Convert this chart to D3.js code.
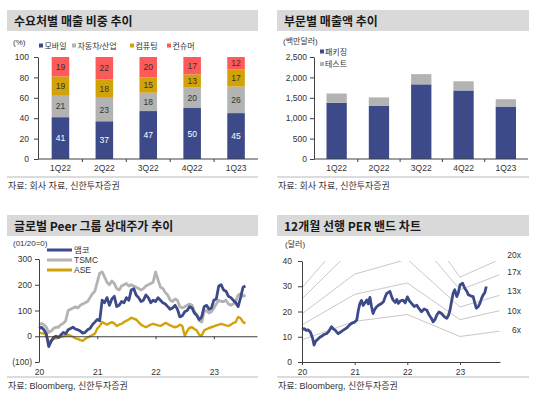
<!DOCTYPE html>
<html>
<head>
<meta charset="utf-8">
<script src="https://cdn.jsdelivr.net/npm/d3@7/dist/d3.min.js"></script>
<style>
  body { margin: 0; background: #fff; }
  svg { font-family: "Liberation Sans", "Noto Sans CJK KR", sans-serif; }
</style>
</head>
<body>
<svg id="chart" width="539" height="398"></svg>
<script>
// ---- data: 수요처별 매출 비중 (%)
const quarters = ['1Q22', '2Q22', '3Q22', '4Q22', '1Q23'];
const mobile = [41, 37, 47, 50, 45];
const autoIndustrial = [21, 23, 18, 20, 26];
const computing = [19, 18, 15, 13, 17];
const consumer = [19, 22, 20, 17, 12];
const shareTicks = [0, 20, 40, 60, 80, 100];

// ---- data: 부문별 매출액 (백만달러)
const packaging = [1380, 1300, 1830, 1680, 1285];
const testSales = [225, 210, 250, 225, 180];
const salesTicks = [0, 500, 1000, 1500, 2000, 2500];

// ---- data: 글로벌 Peer 상대주가 (01/20=0), two readings per month
const peerMonths = [
  '2020-01','2020-02','2020-03','2020-04','2020-05','2020-06','2020-07','2020-08','2020-09','2020-10','2020-11','2020-12',
  '2021-01','2021-02','2021-03','2021-04','2021-05','2021-06','2021-07','2021-08','2021-09','2021-10','2021-11','2021-12',
  '2022-01','2022-02','2022-03','2022-04','2022-05','2022-06','2022-07','2022-08','2022-09','2022-10','2022-11','2022-12',
  '2023-01','2023-02','2023-03','2023-04','2023-05','2023-06','2023-07'
];
const amkorRel = [
  30,35, 25,10, -40,-20, -5,0, -5,5, 15,10, 25,30, 35,28, 25,20, 12,15, 25,30, 45,55,
  65,60, 140,130, 150,120, 145,155, 115,120, 135,130, 150,140, 180,185, 160,150, 135,140, 160,150, 130,140,
  135,150, 140,130, 125,115, 105,110, 120,105, 75,80, 95,100, 115,110, 90,80, 65,75, 115,120, 105,110,
  140,145, 195,200, 180,175, 155,150, 140,130, 115,150, 190,195
];
const tsmcRel = [
  45,50, 45,35, 15,20, 30,35, 35,45, 50,60, 100,105, 110,115, 110,120, 125,130, 135,150, 165,175,
  210,245, 250,230, 210,200, 215,205, 185,180, 195,200, 205,195, 200,195, 190,185, 180,185, 195,200, 205,210,
  250,220, 190,185, 170,160, 140,135, 145,140, 115,110, 115,120, 125,120, 95,85, 60,55, 95,100, 90,95,
  110,125, 140,135, 135,140, 125,120, 125,135, 160,165, 155,160
];
const aseRel = [
  15,12, 10,5, -25,-15, -10,-8, -5,-2, 0,3, 5,2, -2,-8, -10,-15, -18,-10, -5,0, 5,10,
  30,40, 55,50, 45,50, 55,50, 40,45, 48,55, 60,65, 72,68, 65,55, 45,40, 35,40, 45,48,
  45,42, 40,45, 52,48, 42,38, 35,38, 45,40, 2,20, 33,35, 28,22, 5,2, 22,28, 32,35,
  38,42, 45,48, 45,42, 40,45, 52,55, 75,70, 55,50
];
const peerTicks = [-100, 0, 100, 200, 300];
const yearTicks = [2020, 2021, 2022, 2023];

// ---- data: 12개월 선행 PER 밴드 (달러)
const priceYears = [
  2020.00,2020.04,2020.08,2020.12,2020.16,2020.20,2020.23,2020.26,2020.30,2020.34,2020.38,2020.42,2020.47,2020.51,
  2020.56,2020.60,2020.63,2020.66,2020.69,2020.72,2020.75,2020.80,2020.85,2020.90,2020.94,
  2021.00,2021.04,2021.07,2021.10,2021.13,2021.16,2021.20,2021.23,2021.26,2021.29,2021.32,2021.35,2021.38,2021.42,
  2021.46,2021.51,2021.55,2021.58,2021.61,2021.64,2021.67,2021.70,2021.73,2021.77,2021.80,2021.83,2021.87,2021.92,2021.96,
  2022.00,2022.04,2022.08,2022.13,2022.18,2022.22,2022.27,2022.32,2022.37,2022.42,2022.46,2022.49,2022.53,2022.56,
  2022.60,2022.65,2022.70,2022.75,2022.78,2022.81,2022.84,2022.87,2022.90,2022.94,2022.97,
  2023.00,2023.05,2023.09,2023.13,2023.16,2023.20,2023.25,2023.28,2023.31,2023.35,2023.38,2023.41,2023.44,2023.47,2023.50
];
const price = [
  12.9,13.2,12.5,12.7,11.8,9.5,6.7,8.2,9.0,9.8,10.3,10.9,11.3,12.2,
  14.0,13.0,12.6,11.8,11.2,11.7,12.1,12.8,13.5,14.6,15.3,
  15.8,16.6,20.5,23.2,24.4,22.4,23.6,24.6,23.0,25.6,22.0,19.2,20.8,21.9,
  22.6,23.2,24.0,25.8,27.2,27.6,27.9,26.0,24.5,23.6,24.8,23.2,24.2,24.5,23.4,
  25.8,24.2,23.2,22.0,22.5,21.2,19.9,21.0,20.5,18.4,17.2,15.9,17.0,18.6,
  19.8,19.2,18.0,17.3,18.4,20.5,24.0,27.2,28.6,25.9,27.5,
  30.5,31.2,29.2,28.0,26.6,26.2,25.9,23.5,21.3,22.0,23.3,25.2,26.6,27.4,29.9
];
const bandYears = [2020, 2021, 2022, 2023, 2023.75];
const bandNames = ['6x', '10x', '13x', '17x', '20x'];
const band6x = [8.8, 16.1, 18.8, 10.1, 12.2];
const band10x = [14.7, 26.8, 31.3, 16.8, 20.3];
const band13x = [19.1, 34.8, 40.7, 21.8, 26.4];
const band17x = [25.0, 45.6, 53.2, 28.6, 34.5];
const band20x = [29.4, 53.6, 62.6, 33.6, 40.6];
const perTicks = [0, 10, 20, 30, 40];

const NAVY = '#3d4a89', GRAY = '#b3b3b3', GOLD = '#d2a208', RED = '#ff5a5a';
const AXIS = '#404040', TXT = '#333';

const svg = d3.select('#chart');

// title bar + bottom source line for one panel
function frame(x0, x1, top, title, lineY, source) {
  svg.append('rect')
    .attr('x', x0).attr('y', top).attr('width', x1 - x0).attr('height', 21)
    .attr('fill', '#d9d9d9');
  svg.append('text')
    .attr('x', x0 + 7).attr('y', top + 15.5)
    .attr('font-size', 12).attr('font-weight', 'bold').attr('fill', '#1a1a1a')
    .style('font-family', '"Noto Sans CJK KR", sans-serif')
    .text(title);
  svg.append('line')
    .attr('x1', x0).attr('x2', x1).attr('y1', lineY).attr('y2', lineY)
    .attr('stroke', '#a6a6a6').attr('stroke-width', 0.8);
  svg.append('text')
    .attr('x', x0 + 1).attr('y', lineY + 11.5)
    .attr('font-size', 9).attr('fill', TXT)
    .text(source);
}

function styleAxis(g) {
  g.select('.domain').attr('stroke', AXIS);
  g.selectAll('.tick line').attr('stroke', AXIS);
  g.selectAll('.tick text').attr('fill', TXT).attr('font-size', 8.5);
}

frame(7, 258, 10, '수요처별 매출 비중 추이', 177, '자료: 회사 자료, 신한투자증권');
frame(277, 529, 10, '부문별 매출액 추이', 177, '자료: 회사 자료, 신한투자증권');
frame(7, 258, 215, '글로벌 Peer 그룹 상대주가 추이', 377, '자료: Bloomberg, 신한투자증권');
frame(277, 529, 215, '12개월 선행 PER 밴드 차트', 377, '자료: Bloomberg, 신한투자증권');

// ================= panel 1: stacked 100% bars
(function () {
  const keys = ['모바일', '자동차/산업', '컴퓨팅', '컨슈머'];
  const cols = [NAVY, GRAY, GOLD, RED];
  const series = [mobile, autoIndustrial, computing, consumer];
  const rows = quarters.map((q, i) => {
    const r = { q };
    keys.forEach((k, j) => r[k] = series[j][i]);
    return r;
  });
  const stacked = d3.stack().keys(keys)(rows);

  const x = d3.scaleBand().domain(quarters).range([38.5, 258]).paddingInner(0.6).paddingOuter(0.3);
  const y = d3.scaleLinear().domain([0, 100]).range([159, 57]);

  const g = svg.append('g');
  stacked.forEach((layer, j) => {
    g.selectAll(null).data(layer).enter().append('rect')
      .attr('x', d => x(d.data.q))
      .attr('width', x.bandwidth())
      .attr('y', d => y(d[1]))
      .attr('height', d => y(d[0]) - y(d[1]))
      .attr('fill', cols[j]);
    g.selectAll(null).data(layer).enter().append('text')
      .attr('x', d => x(d.data.q) + x.bandwidth() / 2)
      .attr('y', d => (y(d[0]) + y(d[1])) / 2 + 3)
      .attr('text-anchor', 'middle')
      .attr('font-size', 8.5)
      .attr('fill', j === 0 ? '#fff' : '#333')
      .text(d => d[1] - d[0]);
  });

  const ya = svg.append('g').attr('transform', 'translate(38,0)')
    .call(d3.axisLeft(y).tickValues(shareTicks).tickSize(4).tickSizeOuter(0).tickPadding(5));
  styleAxis(ya);

  const xa = svg.append('g').attr('transform', 'translate(0,159)')
    .call(d3.axisBottom(x).tickSize(0).tickPadding(6));
  styleAxis(xa);
  xa.select('.domain').attr('d', 'M38,0H258');
  const half = x.step() * x.paddingInner() / 2;
  xa.selectAll(null).data(quarters.slice(1)).enter().append('line')
    .attr('x1', d => x(d) - half).attr('x2', d => x(d) - half)
    .attr('y1', 0).attr('y2', 3).attr('stroke', AXIS);

  svg.append('text').attr('x', 13).attr('y', 45).attr('font-size', 8).attr('fill', TXT).text('(%)');

  const lg = svg.append('g').attr('transform', 'translate(39,46)');
  const lx = [0, 33, 91, 128];
  keys.forEach((k, j) => {
    lg.append('rect').attr('x', lx[j]).attr('y', -2.5).attr('width', 4).attr('height', 4).attr('fill', cols[j]);
    lg.append('text').attr('x', lx[j] + 5.5).attr('y', 2.8).attr('font-size', 8).attr('fill', TXT).text(k);
  });
})();

// ================= panel 2: packaging / test stacked bars
(function () {
  const keys = ['패키징', '테스트'];
  const cols = [NAVY, GRAY];
  const rows = quarters.map((q, i) => ({ q, '패키징': packaging[i], '테스트': testSales[i] }));
  const stacked = d3.stack().keys(keys)(rows);

  const x = d3.scaleBand().domain(quarters).range([315.5, 527]).paddingInner(0.52).paddingOuter(0.26);
  const y = d3.scaleLinear().domain([0, 2500]).range([159, 57]);

  stacked.forEach((layer, j) => {
    svg.append('g').selectAll('rect').data(layer).enter().append('rect')
      .attr('x', d => x(d.data.q))
      .attr('width', x.bandwidth())
      .attr('y', d => y(d[1]))
      .attr('height', d => y(d[0]) - y(d[1]))
      .attr('fill', cols[j]);
  });

  const ya = svg.append('g').attr('transform', 'translate(314,0)')
    .call(d3.axisLeft(y).tickValues(salesTicks).tickSize(4).tickSizeOuter(0).tickPadding(3)
      .tickFormat(d3.format(',')));
  styleAxis(ya);

  const xa = svg.append('g').attr('transform', 'translate(0,159)')
    .call(d3.axisBottom(x).tickSize(0).tickPadding(6));
  styleAxis(xa);
  xa.select('.domain').attr('d', 'M314,0H528');
  const half = x.step() * x.paddingInner() / 2;
  xa.selectAll(null).data(quarters.slice(1)).enter().append('line')
    .attr('x1', d => x(d) - half).attr('x2', d => x(d) - half)
    .attr('y1', 0).attr('y2', 3).attr('stroke', AXIS);

  svg.append('text').attr('x', 283).attr('y', 44).attr('font-size', 8).attr('fill', TXT).text('(백만달러)');

  keys.forEach((k, j) => {
    const g = svg.append('g').attr('transform', `translate(320,${52 + j * 12.5})`);
    g.append('rect').attr('x', 0).attr('y', -2.5).attr('width', 4).attr('height', 4).attr('fill', cols[j]);
    g.append('text').attr('x', 5).attr('y', 2.8).attr('font-size', 8).attr('fill', TXT).text(k);
  });
})();

// ================= panel 3: relative price lines
(function () {
  const dates = [];
  peerMonths.forEach(m => {
    const [yy, mm] = m.split('-').map(Number);
    dates.push(yy + (mm - 1) / 12, yy + (mm - 1) / 12 + 1 / 24);
  });
  const x = d3.scaleLinear().domain([2020, 2023.74]).range([39, 257]);
  const y = d3.scaleLinear().domain([-100, 300]).range([362, 259]);

  const line = d3.line().x((d, i) => x(dates[i])).y(d => y(d));
  const lines = [
    { name: '앰코', vals: amkorRel, col: NAVY, w: 2.8 },
    { name: 'TSMC', vals: tsmcRel, col: GRAY, w: 2.8 },
    { name: 'ASE', vals: aseRel, col: GOLD, w: 2.4 }
  ];
  [1, 2, 0].forEach(k => {
    svg.append('path').datum(lines[k].vals)
      .attr('fill', 'none').attr('stroke', lines[k].col).attr('stroke-width', lines[k].w)
      .attr('stroke-linejoin', 'round').attr('d', line);
  });

  const ya = svg.append('g').attr('transform', 'translate(39,0)')
    .call(d3.axisLeft(y).tickValues(peerTicks).tickSize(4).tickSizeOuter(0).tickPadding(3)
      .tickFormat(d => d < 0 ? `(${-d})` : d));
  styleAxis(ya);

  const xa = svg.append('g').attr('transform', `translate(0,${y(0)})`)
    .call(d3.axisBottom(x).tickValues(yearTicks).tickSize(3).tickSizeOuter(0).tickPadding(3)
      .tickFormat(d => String(d).slice(2)));
  styleAxis(xa);
  xa.selectAll('.tick text').attr('y', 362 - y(0) + 7);

  svg.append('text').attr('x', 13).attr('y', 246).attr('font-size', 8).attr('fill', TXT).text('(01/20=0)');
  lines.forEach((l, i) => {
    const yy = 250 + i * 10;
    svg.append('line').attr('x1', 47).attr('x2', 72).attr('y1', yy).attr('y2', yy)
      .attr('stroke', l.col).attr('stroke-width', 3);
    svg.append('text').attr('x', 74).attr('y', yy + 3).attr('font-size', 8.5).attr('fill', TXT).text(l.name);
  });
})();

// ================= panel 4: PER band
(function () {
  const x = d3.scaleLinear().domain([2020, 2023.76]).range([302, 500]);
  const y = d3.scaleLinear().domain([0, 40]).range([362, 261]);

  svg.append('clipPath').attr('id', 'perClip').append('rect')
    .attr('x', 302).attr('y', y(40)).attr('width', 200).attr('height', y(0) - y(40));

  const bands = [band6x, band10x, band13x, band17x, band20x];
  const bandLine = d3.line().x((d, i) => x(bandYears[i])).y(d => y(d));
  const bg = svg.append('g').attr('clip-path', 'url(#perClip)');
  bands.forEach(b => {
    bg.append('path').datum(b).attr('fill', 'none').attr('stroke', '#c8c8c8').attr('stroke-width', 1)
      .attr('d', bandLine);
  });

  const priceLine = d3.line().x((d, i) => x(priceYears[i])).y(d => y(d));
  svg.append('path').datum(price).attr('fill', 'none').attr('stroke', NAVY)
    .attr('stroke-width', 2.8).attr('stroke-linejoin', 'round').attr('d', priceLine);

  const ya = svg.append('g').attr('transform', 'translate(302,0)')
    .call(d3.axisLeft(y).tickValues(perTicks).tickSize(4).tickSizeOuter(0).tickPadding(6));
  styleAxis(ya);

  const xa = svg.append('g').attr('transform', `translate(0,${y(0)})`)
    .call(d3.axisBottom(x).tickValues(yearTicks).tickSize(3).tickSizeOuter(0).tickPadding(4)
      .tickFormat(d => String(d).slice(2)));
  styleAxis(xa);

  svg.append('text').attr('x', 285).attr('y', 247).attr('font-size', 8).attr('fill', TXT).text('(달러)');

  const labelY = [330, 311, 291, 272, 255];
  bandNames.forEach((n, i) => {
    svg.append('text').attr('x', 521).attr('y', labelY[i] + 3).attr('text-anchor', 'end')
      .attr('font-size', 8.5).attr('fill', TXT).text(n);
  });
})();
</script>
</body>
</html>
